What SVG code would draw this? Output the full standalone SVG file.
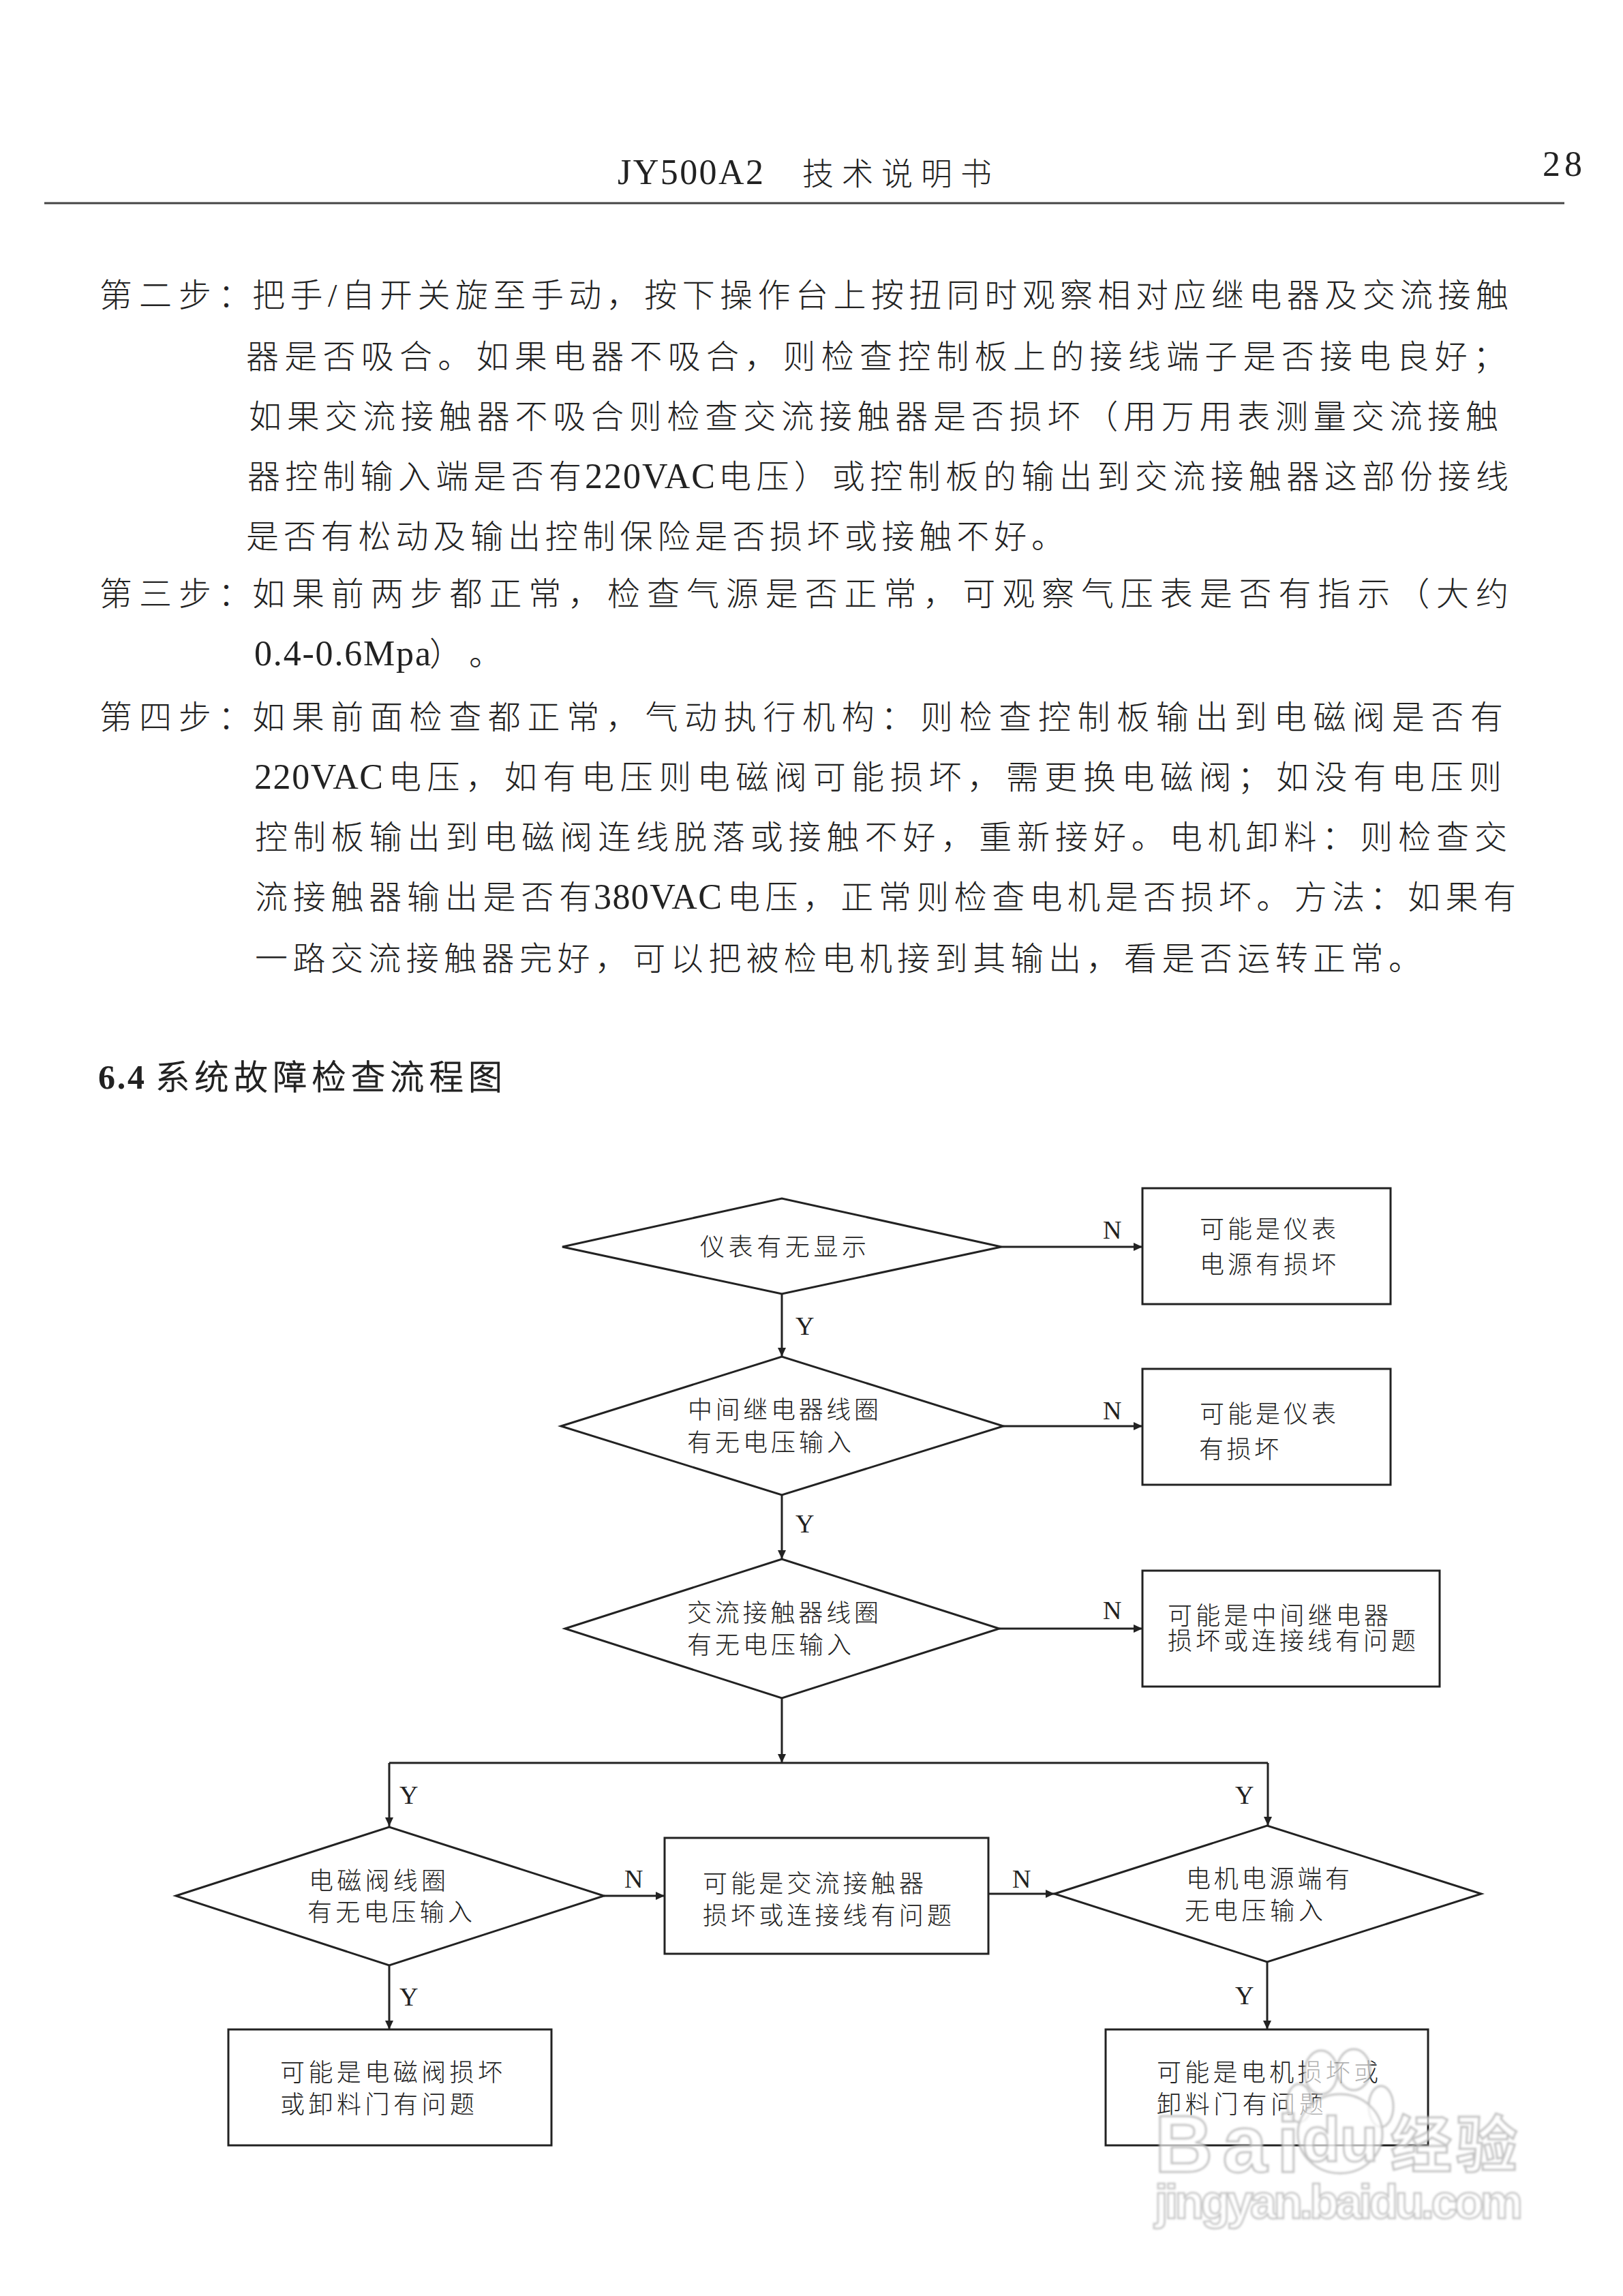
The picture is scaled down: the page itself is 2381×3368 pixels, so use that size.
<svg xmlns="http://www.w3.org/2000/svg" width="2381" height="3368" viewBox="0 0 2381 3368">
<style>
text{font-family:"Liberation Serif","Noto Sans CJK SC",serif;fill:#222;font-weight:300}
.b{font-size:48px}
.bl{font-size:52px}
.n{font-size:36px}
.l{font-size:38px}
.h{font-size:46px}
.t{font-size:50px;font-weight:700}
.tc{font-size:50px;stroke:#222;stroke-width:1.2}
.s{fill:#fff;stroke:#222;stroke-width:3}
.c{fill:none;stroke:#222;stroke-width:3}
.w{fill:#fff;fill-opacity:.72;stroke:#bcbcbc;stroke-width:3;font-family:"Liberation Sans","Noto Sans CJK SC",sans-serif;font-weight:700}
</style>
<defs>
<marker id="a" markerUnits="userSpaceOnUse" markerWidth="14" markerHeight="12" refX="13" refY="6" orient="auto"><path d="M0 0L13 6L0 12Z" fill="#222"/></marker>
<filter id="bl" x="-5%" y="-5%" width="110%" height="110%"><feGaussianBlur stdDeviation="1.6"/></filter>
</defs>
<rect width="2381" height="3368" fill="#fff"/>
<g id="header">
<text x="906" y="270" font-size="52" textLength="214">JY500A2</text>
<text class="h" x="1177" y="271" textLength="278">技术说明书</text>
<text x="2263" y="258" font-size="52" textLength="58">28</text>
<line x1="65" y1="298" x2="2295" y2="298" stroke="#444" stroke-width="3"/>
</g>
<g id="body">
<text class="b" x="146" y="450" textLength="222">第二步：</text>
<text class="b" x="370" y="450" textLength="1843">把手/自开关旋至手动，按下操作台上按扭同时观察相对应继电器及交流接触</text>
<text class="b" x="361" y="540" textLength="1848">器是否吸合。如果电器不吸合，则检查控制板上的接线端子是否接电良好；</text>
<text class="b" x="365" y="628" textLength="1833">如果交流接触器不吸合则检查交流接触器是否损坏（用万用表测量交流接触</text>
<text class="b" x="363" y="716" textLength="490">器控制输入端是否有</text>
<text class="bl" x="858" y="716" textLength="191">220VAC</text>
<text class="b" x="1054" y="716" textLength="1159">电压）或控制板的输出到交流接触器这部份接线</text>
<text class="b" x="361" y="804" textLength="1200">是否有松动及输出控制保险是否损坏或接触不好。</text>
<text class="b" x="146" y="888" textLength="222">第三步：</text>
<text class="b" x="370" y="888" textLength="1843">如果前两步都正常，检查气源是否正常，可观察气压表是否有指示（大约</text>
<text class="bl" x="373" y="976" textLength="259">0.4-0.6Mpa</text>
<text class="b" x="630" y="976">）</text>
<text class="b" x="688" y="976">。</text>
<text class="b" x="146" y="1069" textLength="222">第四步：</text>
<text class="b" x="370" y="1069" textLength="1835">如果前面检查都正常，气动执行机构：则检查控制板输出到电磁阀是否有</text>
<text class="bl" x="373" y="1157" textLength="189">220VAC</text>
<text class="b" x="570" y="1157" textLength="1633">电压，如有电压则电磁阀可能损坏，需更换电磁阀；如没有电压则</text>
<text class="b" x="374" y="1245" textLength="1837">控制板输出到电磁阀连线脱落或接触不好，重新接好。电机卸料：则检查交</text>
<text class="b" x="374" y="1333" textLength="494">流接触器输出是否有</text>
<text class="bl" x="871" y="1333" textLength="188">380VAC</text>
<text class="b" x="1067" y="1333" textLength="1157">电压，正常则检查电机是否损坏。方法：如果有</text>
<text class="b" x="374" y="1423" textLength="1711">一路交流接触器完好，可以把被检电机接到其输出，看是否运转正常。</text>
<text class="t" x="144" y="1597" textLength="68">6.4</text>
<text class="tc" x="228" y="1598" textLength="509">系统故障检查流程图</text>
</g>
<g id="connectors">
<path class="c" marker-end="url(#a)" d="M1469 1829H1676"/>
<path class="c" marker-end="url(#a)" d="M1147 1898V1990"/>
<path class="c" marker-end="url(#a)" d="M1472 2092H1676"/>
<path class="c" marker-end="url(#a)" d="M1147 2193V2287"/>
<path class="c" marker-end="url(#a)" d="M1466 2389H1676"/>
<path class="c" marker-end="url(#a)" d="M1147 2491V2586"/>
<path class="c" d="M571 2586H1860"/>
<path class="c" marker-end="url(#a)" d="M571 2586V2679"/>
<path class="c" marker-end="url(#a)" d="M1860 2586V2678"/>
<path class="c" marker-end="url(#a)" d="M886 2781H975"/>
<path class="c" marker-end="url(#a)" d="M1450 2778H1547"/>
<path class="c" marker-end="url(#a)" d="M571 2883V2977"/>
<path class="c" marker-end="url(#a)" d="M1859 2878V2977"/>
<text class="l" x="1618" y="1817">N</text>
<text class="l" x="1618" y="2082">N</text>
<text class="l" x="1618" y="2375">N</text>
<text class="l" x="1167" y="1958">Y</text>
<text class="l" x="1167" y="2248">Y</text>
<text class="l" x="586" y="2646">Y</text>
<text class="l" x="1812" y="2646">Y</text>
<text class="l" x="586" y="2942">Y</text>
<text class="l" x="1812" y="2940">Y</text>
<text class="l" x="916" y="2769">N</text>
<text class="l" x="1485" y="2769">N</text>
</g>
<g id="d1"><path class="s" d="M825 1829L1147 1758L1469 1829L1147 1898Z"/><text class="n" x="1027" y="1842" textLength="244">仪表有无显示</text></g>
<g id="r1"><rect class="s" x="1676" y="1743" width="364" height="170"/><text class="n" x="1760" y="1816" textLength="200">可能是仪表</text><text class="n" x="1760" y="1868" textLength="200">电源有损坏</text></g>
<g id="d2"><path class="s" d="M823 2092L1147 1990L1472 2092L1147 2193Z"/><text class="n" x="1009" y="2081" textLength="280">中间继电器线圈</text><text class="n" x="1008" y="2129" textLength="241">有无电压输入</text></g>
<g id="r2"><rect class="s" x="1676" y="2008" width="364" height="170"/><text class="n" x="1760" y="2087" textLength="200">可能是仪表</text><text class="n" x="1759" y="2139" textLength="117">有损坏</text></g>
<g id="d3"><path class="s" d="M829 2389L1147 2287L1466 2389L1147 2491Z"/><text class="n" x="1008" y="2379" textLength="281">交流接触器线圈</text><text class="n" x="1008" y="2426" textLength="241">有无电压输入</text></g>
<g id="r3"><rect class="s" x="1676" y="2304" width="436" height="170"/><text class="n" x="1713" y="2383" textLength="324">可能是中间继电器</text><text class="n" x="1713" y="2420" textLength="364">损坏或连接线有问题</text></g>
<g id="d4"><path class="s" d="M258 2781L571 2680L886 2781L571 2883Z"/><text class="n" x="453" y="2772" textLength="201">电磁阀线圈</text><text class="n" x="451" y="2818" textLength="242">有无电压输入</text></g>
<g id="r4"><rect class="s" x="975" y="2696" width="475" height="170"/><text class="n" x="1031" y="2776" textLength="324">可能是交流接触器</text><text class="n" x="1031" y="2823" textLength="365">损坏或连接线有问题</text></g>
<g id="d5"><path class="s" d="M1547 2778L1859 2678L2173 2778L1859 2878Z"/><text class="n" x="1740" y="2769" textLength="240">电机电源端有</text><text class="n" x="1738" y="2816" textLength="203">无电压输入</text></g>
<g id="r5"><rect class="s" x="335" y="2977" width="474" height="170"/><text class="n" x="411" y="3053" textLength="326">可能是电磁阀损坏</text><text class="n" x="411" y="3100" textLength="285">或卸料门有问题</text></g>
<g id="r6"><rect class="s" x="1622" y="2977" width="473" height="170"/><text class="n" x="1697" y="3053" textLength="325">可能是电机损坏或</text><text class="n" x="1697" y="3100" textLength="245">卸料门有问题</text></g>
<g id="watermark" filter="url(#bl)" opacity="0.9">
<ellipse class="w" cx="1938" cy="3040" rx="24" ry="32"/>
<ellipse class="w" cx="1986" cy="3036" rx="24" ry="30"/>
<ellipse class="w" cx="1906" cy="3085" rx="18" ry="28"/>
<ellipse class="w" cx="2026" cy="3090" rx="18" ry="30"/>
<ellipse class="w" cx="1966" cy="3130" rx="62" ry="58"/>
<text class="w" x="1694" y="3186" font-size="118" textLength="212">Bai</text>
<text class="w" x="1910" y="3170" font-size="92" textLength="112">du</text>
<text class="w" x="2040" y="3178" font-size="90" textLength="186">经验</text>
<text class="w" x="1694" y="3254" font-size="70" textLength="540" style="stroke-width:2.5">jingyan.baidu.com</text>
</g>
</svg>
